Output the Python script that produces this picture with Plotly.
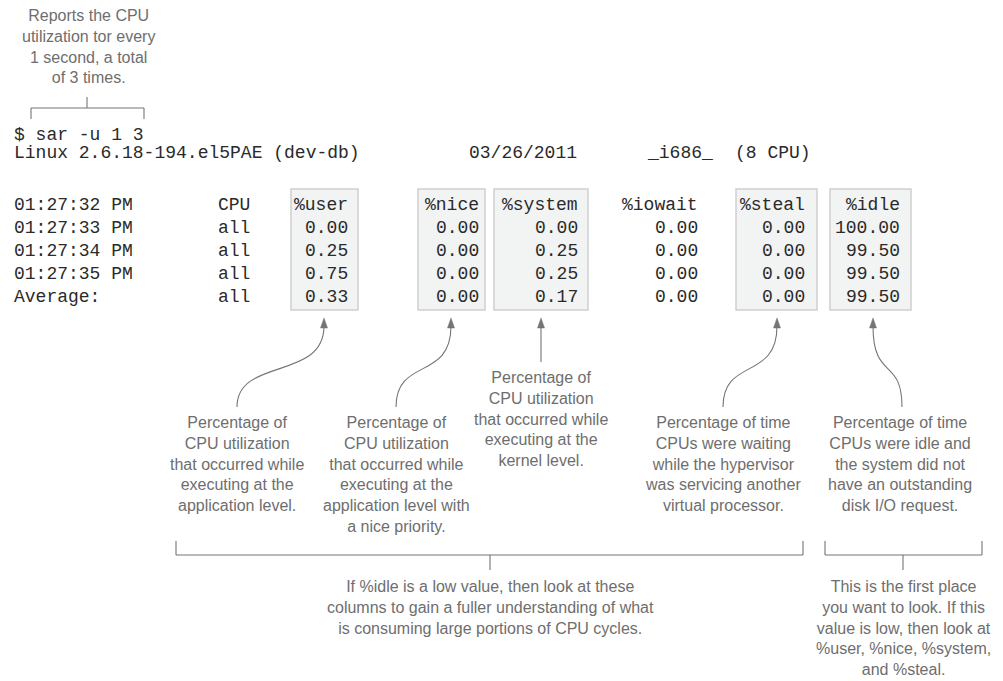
import plotly.graph_objects as go

# sar -u output
command = "$ sar -u 1 3"
host_line = ["Linux 2.6.18-194.el5PAE (dev-db)", "03/26/2011", "_i686_", "(8 CPU)"]
header = ["01:27:32 PM", "CPU", "%user", "%nice", "%system", "%iowait", "%steal", "%idle"]
times = ["01:27:33 PM", "01:27:34 PM", "01:27:35 PM", "Average:"]
cpu = ["all", "all", "all", "all"]
user = [0.00, 0.25, 0.75, 0.33]
nice = [0.00, 0.00, 0.00, 0.00]
system = [0.00, 0.25, 0.25, 0.17]
iowait = [0.00, 0.00, 0.00, 0.00]
steal = [0.00, 0.00, 0.00, 0.00]
idle = [100.00, 99.50, 99.50, 99.50]

note_top = "Reports the CPU<br>utilization tor every<br>1 second, a total<br>of 3 times."
notes = {
    "user": "Percentage of<br>CPU utilization<br>that occurred while<br>executing at the<br>application level.",
    "nice": "Percentage of<br>CPU utilization<br>that occurred while<br>executing at the<br>application level with<br>a nice priority.",
    "system": "Percentage of<br>CPU utilization<br>that occurred while<br>executing at the<br>kernel level.",
    "steal": "Percentage of time<br>CPUs were waiting<br>while the hypervisor<br>was servicing another<br>virtual processor.",
    "idle": "Percentage of time<br>CPUs were idle and<br>the system did not<br>have an outstanding<br>disk I/O request.",
}
note_cols = "If %idle is a low value, then look at these<br>columns to gain a fuller understanding of what<br>is consuming large portions of CPU cycles."
note_idle = "This is the first place<br>you want to look. If this<br>value is low, then look at<br>%user, %nice, %system,<br>and %steal."

MONO = "Liberation Mono, Courier New, monospace"
SANS = "Liberation Sans, Arial, sans-serif"
INK = "#2a2a2a"
GREY = "#6e6e6e"
LINE = "#747474"

W, H = 1003, 681
PAGE = 8  # default body margin of the html page
fig = go.Figure()
fig.add_trace(go.Scatter(x=[PAGE, W], y=[PAGE, H], mode="markers", marker=dict(opacity=0), hoverinfo="skip"))

ann = []
shapes = []


def txt(x, y, s, anchor="left", font=MONO, size=18, color=INK, yanchor="middle"):
    ann.append(dict(x=x, y=y, xref="x", yref="y", text=s, showarrow=False, xanchor=anchor,
                    yanchor=yanchor, align="center", font=dict(family=font, size=size, color=color)))


def line(x0, y0, x1, y1, color=LINE, width=1.1):
    shapes.append(dict(type="line", x0=x0, y0=y0, x1=x1, y1=y1, xref="x", yref="y",
                       line=dict(color=color, width=width)))


def arrow_head(x, y):
    shapes.append(dict(type="path", path=f"M {x},{y} L {x-3.5},{y+10} L {x+3.5},{y+10} Z",
                       xref="x", yref="y", fillcolor=LINE, line=dict(color=LINE, width=0.5)))


def curved_arrow(xtip, ytip, xfoot, yfoot):
    ys = ytip + 8
    path = f"M {xfoot},{yfoot} C {xfoot},{yfoot-50} {xtip},{ys+55} {xtip},{ys}"
    shapes.append(dict(type="path", path=path, xref="x", yref="y", line=dict(color=LINE, width=1.1)))
    arrow_head(xtip, ytip)


# top note with bracket
txt(88, 46, note_top, anchor="center", font=SANS, size=16, color=GREY)
line(87, 97, 87, 108)
line(31, 108, 144, 108)
line(31, 108, 31, 119)
line(144, 108, 144, 119)

# command lines
txt(12, 135, command)
host_x = [12, 467, 645, 733]
for x, s in zip(host_x, host_line):
    txt(x, 153, s)

# highlighted column boxes
box_cols = {"user": (291, 358), "nice": (418, 485), "system": (494, 588), "steal": (736, 817), "idle": (830, 911)}
for x0, x1 in box_cols.values():
    shapes.append(dict(type="rect", x0=x0, x1=x1, y0=189, y1=310, xref="x", yref="y",
                       fillcolor="#f2f3f3", line=dict(color="#d0d0d0", width=1.5), layer="below"))

# table
row_y = [205, 228, 251, 274, 297]
col_right = [350, 481, 580, 700, 807, 902]
values = [user, nice, system, iowait, steal, idle]
txt(12, row_y[0], header[0])
txt(216, row_y[0], header[1])
for x, h in zip(col_right, header[2:]):
    txt(x, row_y[0], h, anchor="right")
for i, y in enumerate(row_y[1:]):
    txt(12, y, times[i])
    txt(216, y, cpu[i])
    for x, col in zip(col_right, values):
        txt(x, y, f"{col[i]:.2f}", anchor="right")

# callouts
curved_arrow(324, 318, 237, 407)
curved_arrow(451, 318, 396, 407)
curved_arrow(777, 318, 723, 407)
# idle arrow bends the other way
shapes.append(dict(type="path", path="M 902,407 C 902,357 873,381 873,326", xref="x", yref="y",
                   line=dict(color=LINE, width=1.1)))
arrow_head(873, 318)
# system arrow is straight
line(541, 326, 541, 362)
arrow_head(541, 318)

txt(237, 412, notes["user"], anchor="center", font=SANS, size=16, color=GREY, yanchor="top")
txt(396, 412, notes["nice"], anchor="center", font=SANS, size=16, color=GREY, yanchor="top")
txt(541, 367, notes["system"], anchor="center", font=SANS, size=16, color=GREY, yanchor="top")
txt(723, 412, notes["steal"], anchor="center", font=SANS, size=16, color=GREY, yanchor="top")
txt(900, 412, notes["idle"], anchor="center", font=SANS, size=16, color=GREY, yanchor="top")

# bottom brackets
line(176, 541, 176, 555)
line(176, 555, 803, 555)
line(803, 541, 803, 555)
line(490, 555, 490, 570)
line(825, 541, 825, 555)
line(825, 555, 982, 555)
line(982, 541, 982, 555)
line(903, 555, 903, 570)

txt(490, 576, note_cols, anchor="center", font=SANS, size=16, color=GREY, yanchor="top")
txt(903, 576, note_idle, anchor="center", font=SANS, size=16, color=GREY, yanchor="top")

# the page adds an 8px body margin, so the axes start at 8 to keep page pixels == coordinates
fig.update_layout(
    width=W - PAGE, height=H - PAGE, margin=dict(l=0, r=0, t=0, b=0),
    paper_bgcolor="white", plot_bgcolor="white", showlegend=False,
    xaxis=dict(range=[PAGE, W], visible=False, fixedrange=True),
    yaxis=dict(range=[H, PAGE], visible=False, fixedrange=True),
    annotations=ann, shapes=shapes,
)
fig.write_html("out.html")
